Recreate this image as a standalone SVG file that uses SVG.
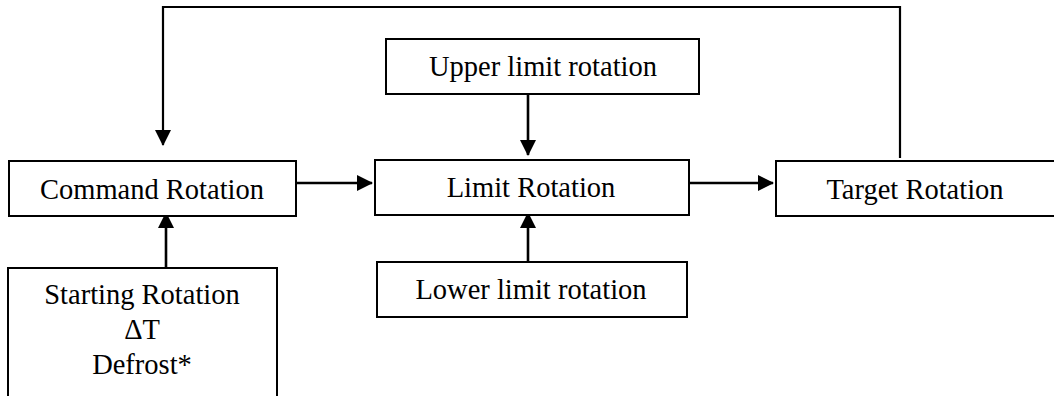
<svg xmlns="http://www.w3.org/2000/svg" width="1054" height="396" viewBox="0 0 1054 396">
<defs>
<style>
.box{fill:#fff;stroke:#000;stroke-width:2}
.t{font-family:"Liberation Serif","Times New Roman",serif;font-size:28.5px;fill:#000;text-anchor:middle}
.c{fill:none;stroke:#000;stroke-width:2.6}
</style>
<marker id="ah" markerUnits="userSpaceOnUse" markerWidth="17" markerHeight="17" refX="15" refY="8" orient="auto">
<path d="M0,0 L16,8 L0,16 Z" fill="#000"/>
</marker>
</defs>
<rect width="1054" height="396" fill="#fff"/>
<g id="connectors">
<path class="c" d="M900,158 V7 H163 V145" marker-end="url(#ah)" style="stroke-width:2.2"/>
<path class="c" d="M292,183 H372" marker-end="url(#ah)"/>
<path class="c" d="M685,183 H773" marker-end="url(#ah)"/>
<path class="c" d="M528,94 V155" marker-end="url(#ah)"/>
<path class="c" d="M528,262 V213" marker-end="url(#ah)"/>
<path class="c" d="M166,268 V213" marker-end="url(#ah)"/>
</g>
<g id="command">
<rect class="box" x="9" y="161" width="287" height="55"/>
<text class="t" x="152" y="199">Command Rotation</text>
</g>
<g id="upper">
<rect class="box" x="386" y="39" width="313" height="55"/>
<text class="t" x="543" y="76">Upper limit rotation</text>
</g>
<g id="limit">
<rect class="box" x="375" y="160" width="314" height="55"/>
<text class="t" x="531" y="197">Limit Rotation</text>
</g>
<g id="target">
<rect class="box" x="776" y="161" width="300" height="55"/>
<text class="t" x="915" y="199">Target Rotation</text>
</g>
<g id="lower">
<rect class="box" x="377" y="262" width="310" height="55"/>
<text class="t" x="531" y="299">Lower limit rotation</text>
</g>
<g id="starting">
<rect class="box" x="8" y="268" width="269" height="140"/>
<text class="t" x="142" y="304">Starting Rotation</text>
<text class="t" x="142" y="339">ΔT</text>
<text class="t" x="142" y="374">Defrost*</text>
</g>
</svg>
